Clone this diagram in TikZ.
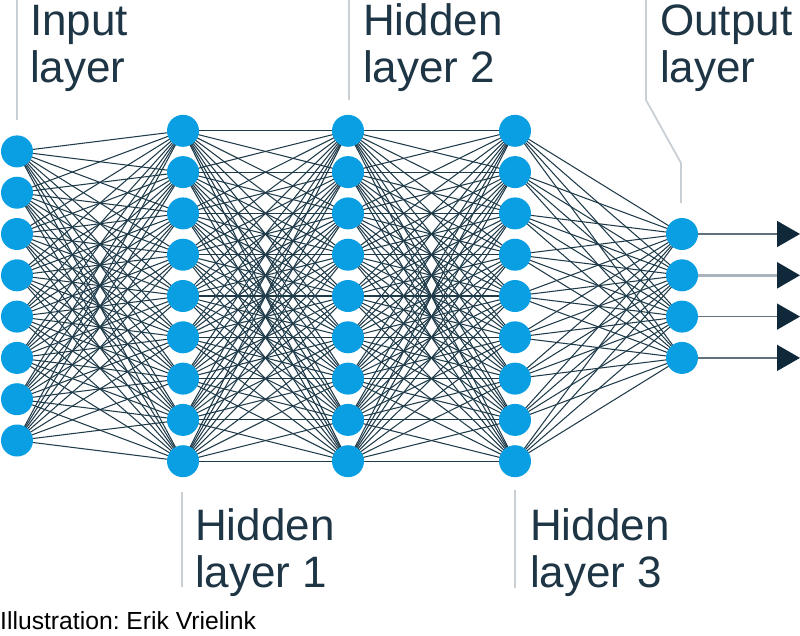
\documentclass[tikz,border=0pt]{standalone}
\usepackage{fontspec}
\setmainfont{Liberation Sans}
\usepackage{tikz}
\usetikzlibrary{arrows.meta,positioning,backgrounds}
\usepackage{xcolor}
\definecolor{neuronBlue}{HTML}{0A9FE2}
\definecolor{wireSlate}{HTML}{1F3B4A}
\definecolor{labelInk}{HTML}{1E3545}
\definecolor{leaderGrey}{HTML}{C9D0D5}
\definecolor{arrowNavy}{HTML}{10293A}
\definecolor{outLine}{HTML}{5E717D}
\frenchspacing

\begin{document}
\begin{tikzpicture}[
    x=1pt, y=-1pt,
    neuron/.style={circle, fill=neuronBlue, minimum size=32pt, inner sep=0pt},
    wire/.style={draw=wireSlate, line width=1.05pt},
    leader/.style={draw=leaderGrey, line width=1.8pt},
    caption/.style={anchor=base west, align=left, inner sep=0pt, text=labelInk,
                    font=\fontsize{44}{47}\selectfont},
    outarrow/.style={draw=outLine, line width=1.6pt,
                     -{Triangle[length=23pt, width=26pt, color=arrowNavy]}},
]
    \useasboundingbox (0,0) rectangle (800,635);

    % layers of neurons
    \foreach \i in {1,...,8}
        \node[neuron] (in\i) at (17, {151.4+(\i-1)*41.3}) {};
    \foreach \l/\x in {1/183, 2/348, 3/515}
        \foreach \i in {1,...,9}
            \node[neuron] (h\l-\i) at (\x, {130.8+(\i-1)*41.3}) {};
    \foreach \i in {1,...,4}
        \node[neuron] (out\i) at (682, {234+(\i-1)*41.3}) {};

    % fully connected wiring
    \begin{scope}[on background layer]
        \foreach \i in {1,...,8}
            \foreach \j in {1,...,9}
                \draw[wire] (in\i.center) -- (h1-\j.center);
        \foreach \a/\b in {1/2, 2/3}
            \foreach \i in {1,...,9}
                \foreach \j in {1,...,9}
                    \draw[wire] (h\a-\i.center) -- (h\b-\j.center);
        \foreach \i in {1,...,9}
            \foreach \j in {1,...,4}
                \draw[wire] (h3-\i.center) -- (out\j.center);
    \end{scope}

    % outputs
    \foreach \i in {1,...,4}
        \coordinate (tip\i) at (800, {234+(\i-1)*41.3});
    \draw[outarrow] (out1) -- (tip1);
    \draw[outarrow, draw=leaderGrey!70!outLine, line width=2.6pt] (out2) -- (tip2);
    \draw[outarrow] (out3) -- (tip3);
    \draw[outarrow] (out4) -- (tip4);

    % labels (anchored on the last line)
    \node[caption] (lblIn)  at (30, 82)  {Input\\layer};
    \node[caption] (lblH2)  at (363, 82) {Hidden\\layer 2};
    \node[caption] (lblOut) at (660, 82) {Output\\layer};
    \node[caption] (lblH1)  at (195, 587) {Hidden\\layer 1};
    \node[caption] (lblH3)  at (530, 587) {Hidden\\layer 3};
    \draw[leader] (17,0) -- (17,120);
    \draw[leader] (349,0) -- (349,100);
    \draw[leader] (646,0) -- (646,100) -- (681,163) -- (681,203);
    \draw[leader] (182,492) -- (182,587);
    \draw[leader] (515,490) -- (515,588);

    \node[anchor=base west, inner sep=0pt, font=\fontsize{24.7}{28}\selectfont]
        (credit) at (0,629) {Illustration: Erik Vrielink};
\end{tikzpicture}
\end{document}
